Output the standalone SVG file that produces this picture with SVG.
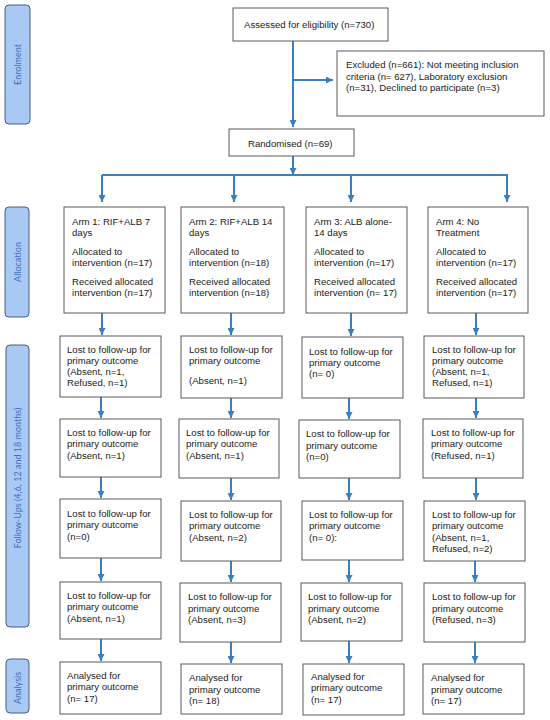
<svg xmlns="http://www.w3.org/2000/svg" width="550" height="720" viewBox="0 0 550 720">
<style>
.box{fill:#fff;stroke:#5a5a5a;stroke-width:1}
.t{font-family:"Liberation Sans",Arial,sans-serif;font-size:9.6px;fill:#222}
.side{fill:#a8c9f4;stroke:#4a5d7c;stroke-width:1}
.st{font-family:Lato,"Open Sans",sans-serif;font-size:9px;fill:#3f6fbf;text-anchor:middle}
.c{fill:none;stroke:#3a7fc1;stroke-width:2}
.a{marker-end:url(#ah)}
</style>
<defs>
<marker id="ah" markerUnits="userSpaceOnUse" markerWidth="7" markerHeight="7" refX="7" refY="3.5" orient="auto">
<path d="M0,0 L7,3.5 L0,7 z" fill="#3a7fc1"/>
</marker>
</defs>
<rect width="550" height="720" fill="#fff"/>

<g id="phases">
<g id="enrolment"><rect class="side" x="5" y="5" width="25" height="119" rx="4"/><text class="st" transform="translate(20.5,64.5) rotate(-90)">Enrolment</text></g>
<g id="allocation"><rect class="side" x="5" y="207" width="24" height="110" rx="4"/><text class="st" transform="translate(20.5,262) rotate(-90)">Allocation</text></g>
<g id="followups"><rect class="side" x="6" y="345" width="23" height="282" rx="4"/><text class="st" transform="translate(21,478) rotate(-90)">Follow-Ups (4,6, 12 and 18 months)</text></g>
<g id="analysis"><rect class="side" x="6" y="659" width="23" height="54" rx="4"/><text class="st" transform="translate(21,688) rotate(-90)">Analysis</text></g>
</g>

<g id="connectors">
<path class="c a" d="M293,41 V127"/>
<path class="c a" d="M293,80 H333"/>
<path class="c a" d="M293,156 V175"/>
<path class="c" d="M102,175 H508"/>
<path class="c a" d="M102,175 V202"/>
<path class="c a" d="M234,175 V202"/>
<path class="c a" d="M351,175 V202"/>
<path class="c a" d="M507,175 V202"/>
<path class="c a" d="M102,313 V335"/>
<path class="c a" d="M231,313 V335"/>
<path class="c a" d="M351,313 V336"/>
<path class="c a" d="M476,313 V335"/>
<path class="c a" d="M101,397 V418"/>
<path class="c a" d="M231,398 V418"/>
<path class="c a" d="M349,398 V419"/>
<path class="c a" d="M476,398 V418"/>
<path class="c a" d="M101,477 V498"/>
<path class="c a" d="M231,478 V500"/>
<path class="c a" d="M349,478 V500"/>
<path class="c a" d="M476,478 V500"/>
<path class="c a" d="M101,558 V581"/>
<path class="c a" d="M231,561 V582"/>
<path class="c a" d="M349,560 V582"/>
<path class="c a" d="M475,561 V582"/>
<path class="c a" d="M101,639 V661"/>
<path class="c a" d="M231,642 V663"/>
<path class="c a" d="M349,641 V663"/>
<path class="c a" d="M475,642 V663"/>
</g>

<g id="assessed"><rect class="box" x="233" y="8" width="155" height="33"/><text class="t" x="244" y="27.5">Assessed for eligibility (n=730)</text></g>
<g id="excluded"><rect class="box" x="337" y="51" width="207" height="65"/>
<text class="t" x="346" y="68">Excluded (n=661): Not meeting inclusion</text>
<text class="t" x="346" y="79.5">criteria (n= 627), Laboratory exclusion</text>
<text class="t" x="346" y="91">(n=31), Declined to participate (n=3)</text></g>
<g id="randomised"><rect class="box" x="229" y="129" width="125" height="27"/><text class="t" x="248" y="147">Randomised (n=69)</text></g>

<g id="arm1"><rect class="box" x="64" y="207" width="101" height="106"/>
<text class="t" x="72" y="224.5">Arm 1: RIF+ALB 7</text><text class="t" x="72" y="235.5">days</text>
<text class="t" x="72" y="254.5">Allocated to</text><text class="t" x="72" y="265.5">intervention (n=17)</text>
<text class="t" x="72" y="284.5">Received allocated</text><text class="t" x="72" y="295.5">intervention (n=17)</text></g>
<g id="arm2"><rect class="box" x="181" y="207" width="103" height="106"/>
<text class="t" x="189" y="224.5">Arm 2: RIF+ALB 14</text><text class="t" x="189" y="235.5">days</text>
<text class="t" x="189" y="254.5">Allocated to</text><text class="t" x="189" y="265.5">intervention (n=18)</text>
<text class="t" x="189" y="284.5">Received allocated</text><text class="t" x="189" y="295.5">intervention (n=18)</text></g>
<g id="arm3"><rect class="box" x="306" y="207" width="101" height="106"/>
<text class="t" x="314" y="224.5">Arm 3: ALB alone-</text><text class="t" x="314" y="235.5">14 days</text>
<text class="t" x="314" y="254.5">Allocated to</text><text class="t" x="314" y="265.5">intervention (n=17)</text>
<text class="t" x="314" y="284.5">Received allocated</text><text class="t" x="314" y="295.5">intervention (n= 17)</text></g>
<g id="arm4"><rect class="box" x="428" y="207" width="100" height="106"/>
<text class="t" x="436" y="224.5">Arm 4: No</text><text class="t" x="436" y="235.5">Treatment</text>
<text class="t" x="436" y="254.5">Allocated to</text><text class="t" x="436" y="265.5">intervention (n=17)</text>
<text class="t" x="436" y="284.5">Received allocated</text><text class="t" x="436" y="295.5">intervention (n=17)</text></g>

<g id="fu1a"><rect class="box" x="60" y="336" width="101" height="61"/>
<text class="t" x="67" y="353">Lost to follow-up for</text><text class="t" x="67" y="364">primary outcome</text>
<text class="t" x="67" y="375">(Absent, n=1,</text><text class="t" x="67" y="386">Refused, n=1)</text></g>
<g id="fu2a"><rect class="box" x="181" y="336" width="101" height="62"/>
<text class="t" x="189" y="353">Lost to  follow-up for</text><text class="t" x="189" y="364">primary outcome</text>
<text class="t" x="189" y="383.5">(Absent, n=1)</text></g>
<g id="fu3a"><rect class="box" x="302" y="337" width="101" height="61"/>
<text class="t" x="309" y="355">Lost to follow-up for</text><text class="t" x="309" y="366">primary outcome</text>
<text class="t" x="309" y="377">(n= 0)</text></g>
<g id="fu4a"><rect class="box" x="424" y="336" width="100" height="62"/>
<text class="t" x="432" y="353">Lost to follow-up for</text><text class="t" x="432" y="364">primary outcome</text>
<text class="t" x="432" y="375">(Absent, n=1,</text><text class="t" x="432" y="386">Refused, n=1)</text></g>

<g id="fu1b"><rect class="box" x="60" y="419" width="101" height="58"/>
<text class="t" x="67" y="435.5">Lost to follow-up for</text><text class="t" x="67" y="447">primary outcome</text>
<text class="t" x="67" y="458.5">(Absent, n=1)</text></g>
<g id="fu2b"><rect class="box" x="179" y="419" width="100" height="59"/>
<text class="t" x="186" y="435.5">Lost to follow-up for</text><text class="t" x="186" y="447">primary outcome</text>
<text class="t" x="186" y="458.5">(Absent, n=1)</text></g>
<g id="fu3b"><rect class="box" x="299" y="420" width="101" height="58"/>
<text class="t" x="306" y="437">Lost to follow-up for</text><text class="t" x="306" y="448.5">primary outcome</text>
<text class="t" x="306" y="460">(n=0)</text></g>
<g id="fu4b"><rect class="box" x="423" y="419" width="100" height="59"/>
<text class="t" x="431" y="435.5">Lost to follow-up for</text><text class="t" x="431" y="447">primary outcome</text>
<text class="t" x="431" y="458.5">(Refused, n=1)</text></g>

<g id="fu1c"><rect class="box" x="60" y="499" width="101" height="59"/>
<text class="t" x="67" y="516.5">Lost to follow-up for</text><text class="t" x="67" y="528">primary outcome</text>
<text class="t" x="67" y="539.5">(n=0)</text></g>
<g id="fu2c"><rect class="box" x="181" y="501" width="100" height="60"/>
<text class="t" x="189" y="517.5">Lost to follow-up for</text><text class="t" x="189" y="529">primary outcome</text>
<text class="t" x="189" y="540.5">(Absent, n=2)</text></g>
<g id="fu3c"><rect class="box" x="302" y="501" width="101" height="59"/>
<text class="t" x="309" y="517.5">Lost to  follow-up for</text><text class="t" x="309" y="529">primary outcome</text>
<text class="t" x="309" y="540.5">(n= 0):</text></g>
<g id="fu4c"><rect class="box" x="424" y="501" width="101" height="60"/>
<text class="t" x="432" y="517.5">Lost to follow-up for</text><text class="t" x="432" y="529">primary outcome</text>
<text class="t" x="432" y="540.5">(Absent, n=1,</text><text class="t" x="432" y="551.5">Refused, n=2)</text></g>

<g id="fu1d"><rect class="box" x="60" y="582" width="101" height="57"/>
<text class="t" x="67" y="598.5">Lost to follow-up for</text><text class="t" x="67" y="610">primary outcome</text>
<text class="t" x="67" y="621.5">(Absent, n=1)</text></g>
<g id="fu2d"><rect class="box" x="180" y="583" width="101" height="59"/>
<text class="t" x="188" y="600">Lost to follow-up for</text><text class="t" x="188" y="611.5">primary outcome</text>
<text class="t" x="188" y="623">(Absent, n=3)</text></g>
<g id="fu3d"><rect class="box" x="301" y="583" width="101" height="58"/>
<text class="t" x="308" y="600">Lost to follow-up for</text><text class="t" x="308" y="611.5">primary outcome</text>
<text class="t" x="308" y="623">(Absent, n=2)</text></g>
<g id="fu4d"><rect class="box" x="424" y="583" width="101" height="59"/>
<text class="t" x="432" y="600">Lost to follow-up for</text><text class="t" x="432" y="611.5">primary outcome</text>
<text class="t" x="432" y="623">(Refused, n=3)</text></g>

<g id="an1"><rect class="box" x="60" y="662" width="101" height="52"/>
<text class="t" x="67" y="678.5">Analysed for</text><text class="t" x="67" y="690">primary outcome</text>
<text class="t" x="67" y="701.5">(n= 17)</text></g>
<g id="an2"><rect class="box" x="181" y="664" width="101" height="50"/>
<text class="t" x="189" y="681">Analysed for</text><text class="t" x="189" y="692.5">primary outcome</text>
<text class="t" x="189" y="704">(n= 18)</text></g>
<g id="an3"><rect class="box" x="303" y="664" width="101" height="51"/>
<text class="t" x="311" y="679.5">Analysed for</text><text class="t" x="311" y="691">primary outcome</text>
<text class="t" x="311" y="702.5">(n= 17)</text></g>
<g id="an4"><rect class="box" x="423" y="664" width="101" height="50"/>
<text class="t" x="431" y="681">Analysed for</text><text class="t" x="431" y="692.5">primary outcome</text>
<text class="t" x="431" y="704">(n= 17)</text></g>
</svg>
